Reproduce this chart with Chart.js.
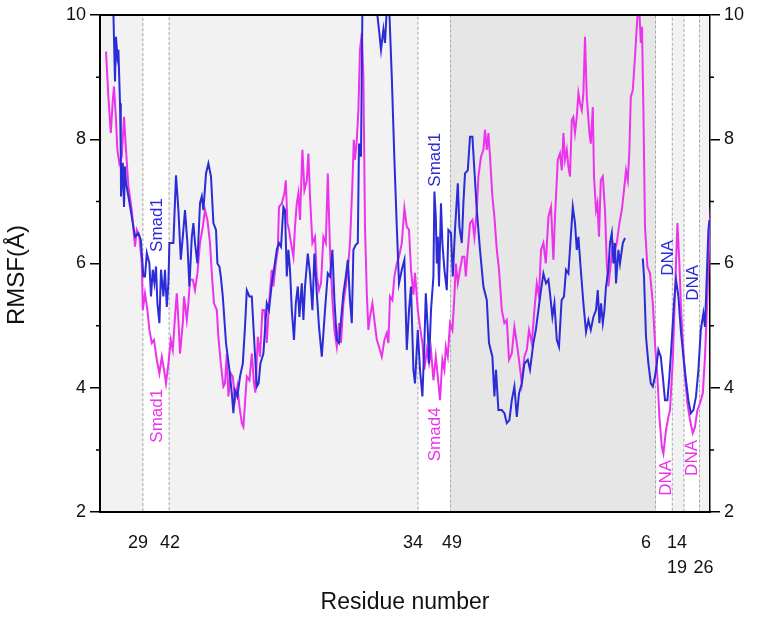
<!DOCTYPE html>
<html>
<head>
<meta charset="utf-8">
<script src="https://cdn.jsdelivr.net/npm/chart.js"></script>
<style>
html, body { margin: 0; padding: 0; background: #fff; }
canvas { display: block; }
</style>
</head>
<body>
<canvas id="rmsf" width="764" height="621"></canvas>
<script>
// RMSF per residue, [residue index, RMSF in Å]
const blueSeries = [[6.5,10.3],[7.5,8.93],[8,9.65],[8.7,9.33],[9.2,9.44],[10,8.58],[10.4,7.78],[10.5,7.08],[11.4,7.62],[12,6.91],[12.5,7.56],[13,7.3],[14.2,7.08],[15.9,6.75],[17.5,6.43],[19.2,6.49],[20.4,6.38],[21.7,5.79],[22.5,5.79],[23.4,6.17],[24.7,6.0],[25.5,5.47],[26.4,5.9],[27.2,5.69],[28,5.95],[28.7,5.36],[29.7,5.04],[30.5,5.9],[31.7,5.47],[32.5,5.9],[33.4,5.3],[34.2,5.69],[34.7,6.33],[36.7,6.33],[38,7.42],[39.2,6.86],[40.4,6.06],[41.4,6.43],[42.5,6.86],[43.7,6.33],[44.7,5.63],[45.9,6.43],[46.7,6.65],[47.5,6.33],[48.7,6.0],[50,6.97],[50.9,7.08],[51.7,6.86],[53,7.45],[54.2,7.61],[55.5,7.4],[56.7,6.65],[58,6.54],[58.7,6.0],[59.7,5.95],[60.4,5.79],[61.4,5.47],[63,4.72],[64.7,4.29],[65.9,3.91],[66.7,3.59],[67.5,3.96],[68.7,3.86],[70,4.18],[71.4,4.39],[72.5,4.98],[73.4,5.57],[74.7,5.47],[75.9,5.47],[77,4.82],[78.4,4.02],[79.3,4.07],[80.2,4.39],[81.7,4.55],[83.4,5.36],[84.5,5.25],[85.9,5.68],[87.2,5.95],[88.4,6.22],[89.5,6.33],[90.5,6.27],[91.7,6.91],[92.5,6.86],[93.4,5.79],[94.2,6.22],[95,5.9],[95.9,5.25],[97,4.77],[97.9,5.36],[98.9,5.63],[99.7,5.14],[100.9,5.68],[101.7,5.09],[102.5,5.63],[103.9,6.16],[105,5.84],[106.2,5.25],[107.2,6.16],[108.4,5.52],[109.5,4.98],[110.9,4.5],[112.5,5.25],[113.9,5.84],[115,5.79],[116.2,6.22],[117.2,5.41],[118.4,4.77],[119.5,4.72],[120.5,5.09],[121.7,5.52],[122.9,5.79],[123.9,6.06],[125,5.41],[125.9,5.04],[126.7,6.22],[127.9,6.3],[128.9,6.33],[129.5,7.93],[130.5,7.72],[131.2,10.1],[134,10.6],[137,10.5],[139.5,9.76],[140.5,9.44],[141.7,9.77],[142.5,9.55],[143.4,10.1],[144.5,10.2],[145.9,9.0],[147.2,7.67],[148.4,6.59],[149.5,5.68],[150.9,5.9],[152.2,6.06],[153.4,4.61],[154.5,5.25],[155.5,5.63],[156.7,4.29],[157.5,4.07],[158.9,4.93],[160,4.29],[161.2,3.86],[162.2,4.72],[162.9,5.52],[163.9,4.93],[164.5,4.39],[165.5,5.25],[166.7,5.79],[167.2,7.16],[167.9,6.75],[168.4,6.0],[168.9,6.43],[169.5,5.63],[170.5,6.97],[171.2,6.33],[172.2,5.9],[173.4,5.57],[174.2,6.54],[175.5,6.49],[176.4,5.79],[177.5,6.54],[178.9,7.29],[179.7,6.59],[180.9,6.33],[181.7,6.97],[182.5,7.45],[183.9,7.5],[185,8.04],[186.2,8.04],[187.2,7.5],[188.4,6.86],[190,6.22],[191.7,5.63],[193.4,5.41],[194.5,4.72],[196.2,4.5],[197.2,3.86],[198,4.29],[199.2,3.64],[200.9,3.64],[202.2,3.59],[203.4,3.43],[204.7,3.48],[205.9,3.8],[207.2,4.02],[208.4,3.53],[209.5,3.91],[210.9,4.07],[212.2,4.39],[213.9,4.45],[215,4.29],[216.7,4.72],[217.9,4.93],[219.2,5.25],[220.5,5.57],[221.7,5.84],[223,5.68],[224.2,5.74],[225,5.52],[226.2,5.14],[227.2,5.36],[228.4,4.77],[229.5,4.66],[230.8,5.41],[232,5.47],[233,5.9],[234.2,5.84],[235.4,6.43],[236.4,6.91],[237.5,6.65],[238.4,6.22],[239.2,6.43],[240.4,5.9],[241.7,5.36],[243,4.9],[244.2,5.09],[245.4,4.93],[246.7,5.14],[248,5.25],[248.9,5.57],[249.7,5.04],[250.5,5.36],[251.4,5.04],[252.2,5.25],[253,5.63],[254.2,5.9],[255,6.33],[255.9,6.49],[256.7,6.0],[257.5,6.33],[258,5.68],[259.2,6.22],[260,6.0],[261.4,6.33],[262.5,6.41],[267,null],[271.4,6.08],[272,5.79],[273,4.82],[274.2,4.39],[275.4,4.07],[276.4,4.02],[277.5,4.18],[278.4,4.39],[279.2,4.61],[280.4,4.5],[281.4,4.18],[282.5,3.8],[283.7,3.8],[284.7,4.18],[285.9,4.77],[287,5.36],[288,5.74],[289.2,5.47],[290.4,4.93],[291.7,4.5],[293,4.12],[294.2,3.8],[295.4,3.59],[296.7,3.64],[298,3.86],[299.2,4.29],[300.4,4.93],[301.7,5.2],[302.5,4.98],[303.4,5.79],[304.2,6.54],[304.7,6.7]];

const magentaSeries = [[3,9.41],[4.2,8.68],[5.4,8.1],[6.4,8.63],[7,8.85],[8,8.31],[8.7,7.83],[9.7,7.61],[10.9,7.72],[12,8.36],[13,7.83],[14.2,7.24],[15.9,6.86],[17.5,6.27],[18.4,6.54],[19.7,6.43],[20.9,6.0],[21.4,5.25],[22.5,5.52],[23.7,5.25],[24.7,4.93],[25.9,4.72],[27,4.77],[28.4,4.45],[29.7,4.23],[30.9,4.5],[32,4.29],[33,4.07],[34.2,4.39],[35.4,4.77],[36.4,4.61],[37.5,5.14],[38.4,5.52],[39.2,5.09],[40,4.55],[41.4,5.04],[42,5.47],[43.4,5.09],[44.2,5.36],[45,5.74],[46.4,5.74],[47.5,5.57],[48.7,5.84],[50,6.33],[51.4,6.59],[52.5,6.86],[53.7,6.7],[55,6.33],[56,5.79],[57,5.36],[58.4,5.25],[59.2,4.82],[60.4,4.39],[61.7,4.02],[62.5,4.07],[63.4,4.55],[64.2,3.86],[65.4,4.23],[66.4,4.18],[67.5,3.8],[68.7,4.02],[69.7,3.7],[70.9,3.43],[71.7,3.37],[72.5,3.75],[73.4,4.18],[74.7,4.12],[75.9,4.55],[77,4.07],[77.7,3.92],[78.9,4.82],[80,4.5],[81.2,5.25],[82.2,5.25],[83.4,4.72],[84.5,5.36],[85.9,5.9],[86.7,5.63],[87.9,6.0],[88.9,6.22],[89.5,6.91],[90.9,6.97],[92.2,7.13],[92.9,7.34],[93.7,6.65],[94.5,6.54],[95.5,6.33],[96.7,6.11],[97.5,6.59],[98.4,6.97],[99.2,7.13],[100,6.7],[101.2,7.83],[102.2,7.18],[103.4,7.34],[104.2,7.77],[105,7.08],[106.2,6.33],[107.5,6.43],[108.4,5.79],[109.5,5.57],[110.5,5.68],[111.7,6.43],[112.9,6.33],[113.9,7.45],[115,6.22],[116.2,5.41],[117.2,4.93],[118.4,4.66],[119.5,5.04],[120.5,4.72],[121.7,5.36],[122.9,5.63],[123.9,5.9],[125,6.33],[126.2,7.29],[126.9,7.99],[127.5,7.67],[128.4,7.99],[129.2,8.47],[130,9.44],[130.9,9.71],[131.7,9.0],[132.5,6.59],[133.4,5.52],[134.2,4.93],[135,5.14],[136.2,5.36],[137.2,5.09],[138.4,4.77],[139.5,4.66],[140.9,4.5],[142.2,4.77],[143.4,4.88],[144.2,4.72],[145,5.47],[146.2,5.41],[147.2,5.79],[148.4,6.0],[149.5,6.11],[150.9,6.33],[152.2,6.89],[153.4,6.59],[154.5,6.54],[155.5,5.9],[156.7,5.5],[157.5,5.85],[158.9,5.25],[160,4.98],[161.2,4.72],[162.2,4.29],[163.4,4.61],[164.5,4.39],[165.5,4.61],[166.7,4.12],[167.9,4.5],[168.9,4.18],[170,3.8],[171.2,4.45],[172.2,4.29],[172.9,4.66],[173.9,4.5],[175,5.04],[176.2,4.93],[177.2,5.47],[177.9,6.0],[178.9,5.68],[180,5.9],[181.2,6.11],[182.2,6.11],[182.9,5.79],[183.9,6.22],[185,6.65],[186.2,6.7],[187.2,6.43],[188.4,6.86],[189.2,7.4],[190.5,7.72],[191.7,7.83],[192.5,8.15],[193.4,7.83],[194.2,8.1],[195,7.72],[196.2,7.08],[197.2,6.75],[198.4,6.22],[199.5,5.9],[200.9,5.25],[202.2,5.04],[203.4,5.09],[204.5,4.45],[205.9,4.55],[207.2,4.98],[208.4,4.72],[209.5,4.45],[210.9,4.07],[212.2,4.5],[213.4,4.61],[214.5,4.93],[215.9,4.72],[217.2,5.25],[218.4,5.68],[219.5,5.47],[220.5,6.22],[221.7,6.33],[222.9,6.0],[224.2,6.75],[225.5,6.91],[226.7,6.06],[227.5,6.75],[228.9,7.67],[230,7.77],[230.9,7.5],[231.7,8.1],[232.5,7.67],[233.4,7.83],[234.2,7.56],[235,7.4],[235.9,8.31],[236.7,8.36],[237.5,8.1],[238.4,8.36],[239.2,8.74],[240,8.58],[240.9,8.47],[241.7,8.74],[242.5,9.65],[243.4,8.68],[244.7,8.1],[245.4,7.93],[246.4,8.52],[247,7.4],[248,6.86],[248.7,6.97],[249.5,6.43],[250.4,7.34],[251.4,7.4],[252.5,6.86],[253.4,6.0],[254.2,5.63],[255.4,6.0],[256.4,6.33],[257.5,6.22],[258.4,6.33],[259.7,6.65],[260.9,6.86],[262,7.18],[263,7.5],[263.9,7.34],[264.7,7.83],[265.4,8.68],[266.4,8.79],[267.5,9.33],[268.7,9.97],[269.7,10.05],[270.4,9.55],[271,9.81],[271.7,8.47],[272.5,6.59],[273.7,5.95],[275,5.84],[276.4,5.36],[277.5,4.72],[278.7,4.18],[279.7,3.53],[280.9,3.05],[281.7,2.94],[283,3.32],[284.2,3.53],[285,3.64],[286.4,4.45],[287.5,5.52],[288.7,6.65],[289.7,6.0],[290.4,5.36],[291.4,4.72],[292.5,4.18],[293.7,3.75],[295,3.48],[296.4,3.27],[297.5,3.37],[298.7,3.64],[300,3.75],[301.4,3.91],[302.5,4.5],[303.7,5.47],[304.7,6.43],[305.4,6.9]];

// residue numbers printed under the axis (chain boundaries)
const tickResidues = [19, 35, 156.5, 176, 273, 288.5, 301.75];
const tickLabels = [['29'], ['42'], ['34'], ['49'], ['6'], ['14', '19'], ['', '26']];

// shaded chain segments
const regionFrom = [0, 34.3, 175, 285.9, 299.5];
const regionTo = [21.7, 159.2, 278, 292.2, 305];
const regionShade = ['#f2f2f2', '#f2f2f2', '#e6e6e6', '#f2f2f2', '#f2f2f2'];

// rotated partner labels
const noteText = ['Smad1', 'Smad1', 'Smad1', 'Smad4', 'DNA', 'DNA', 'DNA', 'DNA'];
const noteResidue = [28.5, 28.5, 167.5, 167.5, 284, 296.5, 283, 296];
const noteRmsf = [6.62, 3.55, 7.67, 3.25, 6.09, 5.69, 2.55, 2.87];
const noteSeries = [0, 1, 0, 1, 0, 0, 1, 1];

const seriesColor = ['#2b2bd8', '#ec33ec'];
const FONT = 'Arial, "Liberation Sans", sans-serif';

const decor = {
  id: 'decor',
  beforeDraw(chart) {
    const {ctx, chartArea: a, scales: {x}} = chart;
    ctx.save();
    regionFrom.forEach((from, i) => {
      const x0 = x.getPixelForValue(from);
      const x1 = x.getPixelForValue(regionTo[i]);
      ctx.fillStyle = regionShade[i];
      ctx.fillRect(x0, a.top, x1 - x0, a.bottom - a.top);
      ctx.setLineDash([3, 2]);
      ctx.strokeStyle = '#a8a8a8';
      ctx.lineWidth = 1;
      ctx.strokeRect(x0 + 0.5, a.top + 0.5, x1 - x0 - 1, a.bottom - a.top - 1);
    });
    ctx.restore();
  },
  afterDraw(chart) {
    const {ctx, chartArea: a, scales: {x, y}} = chart;
    ctx.save();
    // top frame line
    ctx.strokeStyle = '#000';
    ctx.lineWidth = 2;
    ctx.beginPath();
    ctx.moveTo(a.left, a.top);
    ctx.lineTo(a.right, a.top);
    ctx.stroke();
    // minor ticks
    ctx.lineWidth = 1.5;
    [3, 5, 7, 9].forEach(v => {
      const py = y.getPixelForValue(v);
      ctx.beginPath();
      ctx.moveTo(a.left - 4, py); ctx.lineTo(a.left, py);
      ctx.moveTo(a.right, py); ctx.lineTo(a.right + 4, py);
      ctx.stroke();
    });
    // partner labels
    ctx.font = '17px ' + FONT;
    ctx.textAlign = 'center';
    ctx.textBaseline = 'middle';
    noteText.forEach((t, i) => {
      ctx.save();
      ctx.translate(x.getPixelForValue(noteResidue[i]), y.getPixelForValue(noteRmsf[i]));
      ctx.rotate(-Math.PI / 2);
      ctx.fillStyle = seriesColor[noteSeries[i]];
      ctx.fillText(t, 0, 0);
      ctx.restore();
    });
    // y axis title
    ctx.save();
    ctx.translate(17, 275);
    ctx.rotate(-Math.PI / 2);
    ctx.font = '24px ' + FONT;
    ctx.fillStyle = '#111';
    ctx.fillText('RMSF(Å)', 0, 0);
    ctx.restore();
    ctx.restore();
  }
};

new Chart(document.getElementById('rmsf'), {
  type: 'line',
  data: {
    datasets: [
      {
        label: 'Smad1',
        data: blueSeries.map(p => ({x: p[0], y: p[1]})),
        borderColor: seriesColor[0],
        borderWidth: 2,
        pointRadius: 0,
        tension: 0,
        spanGaps: false
      },
      {
        label: 'Smad4',
        data: magentaSeries.map(p => ({x: p[0], y: p[1]})),
        borderColor: seriesColor[1],
        borderWidth: 2,
        pointRadius: 0,
        tension: 0,
        spanGaps: false
      }
    ]
  },
  options: {
    responsive: false,
    animation: false,
    layout: {padding: {top: 15, left: 0, right: 0, bottom: 0}},
    plugins: {legend: {display: false}, tooltip: {enabled: false}},
    scales: {
      x: {
        type: 'linear',
        min: 0,
        max: 305,
        afterFit: s => { s.height = 109; },
        afterBuildTicks: s => { s.ticks = tickResidues.map(v => ({value: v})); },
        grid: {display: false},
        border: {display: true, color: '#000', width: 2},
        ticks: {
          autoSkip: false,
          maxRotation: 0,
          minRotation: 0,
          padding: 10,
          color: '#111',
          font: {family: FONT, size: 18, lineHeight: 1.4},
          callback: (v, i) => tickLabels[i]
        },
        title: {
          display: true,
          text: 'Residue number',
          color: '#111',
          font: {family: FONT, size: 23},
          padding: {top: 0, bottom: 5}
        }
      },
      y: {
        position: 'left',
        min: 2,
        max: 10,
        afterFit: s => { s.width = 100; },
        grid: {drawOnChartArea: false, tickLength: 10, color: '#000', lineWidth: 1.5},
        border: {display: true, color: '#000', width: 2},
        ticks: {stepSize: 2, padding: 4, color: '#111', font: {family: FONT, size: 18}}
      },
      yR: {
        position: 'right',
        min: 2,
        max: 10,
        afterFit: s => { s.width = 54; },
        grid: {drawOnChartArea: false, tickLength: 10, color: '#000', lineWidth: 1.5},
        border: {display: true, color: '#000', width: 1.5},
        ticks: {stepSize: 2, padding: 4, color: '#111', font: {family: FONT, size: 18}}
      }
    }
  },
  plugins: [decor]
});
</script>
</body>
</html>
